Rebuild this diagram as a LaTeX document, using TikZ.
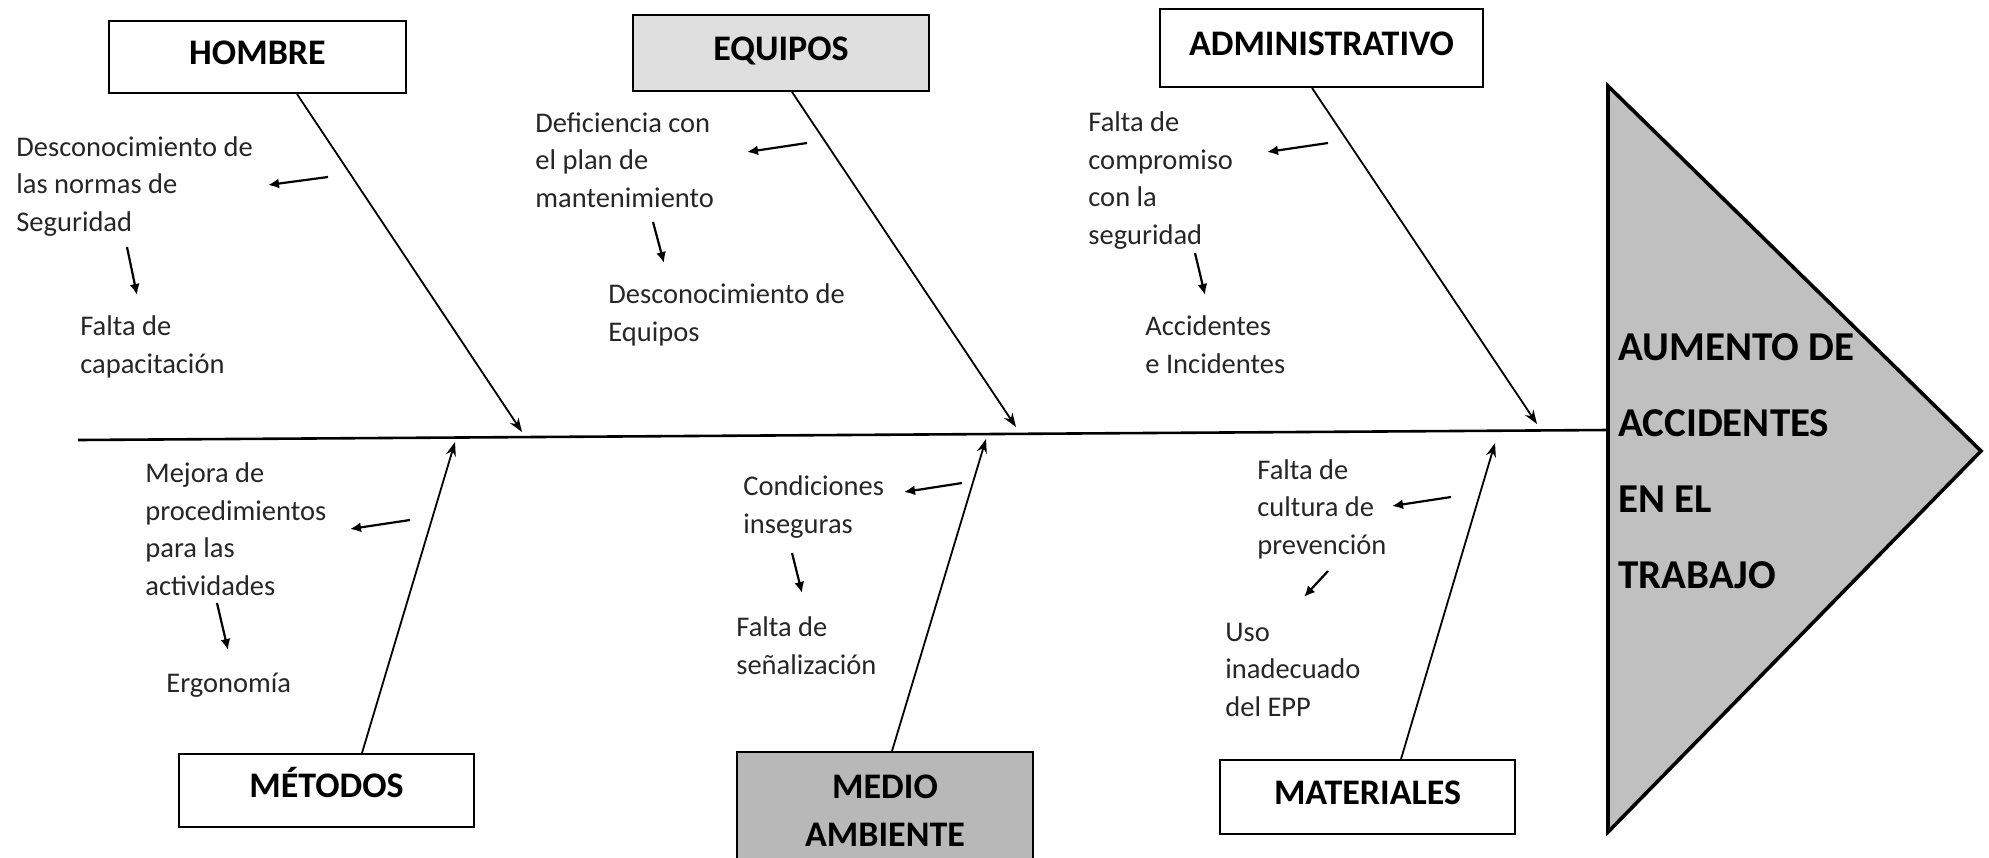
\documentclass[tikz,border=0pt]{standalone}
\usepackage{fontspec}
\setmainfont{Carlito}
\usetikzlibrary{arrows.meta,calc}
\definecolor{lightfill}{HTML}{DFDFDF}
\definecolor{midfill}{HTML}{B8B8B8}
\definecolor{trifill}{HTML}{C0C0C0}
\definecolor{txt}{HTML}{262626}
\tikzset{
  headbox/.style={draw=black, line width=1pt, inner sep=0pt,
    font=\fontsize{18}{22}\selectfont\bfseries, text height=12pt, text depth=4.9pt},
  medbox/.style={draw=black, line width=1pt, inner sep=0pt, align=center,
    font=\fontsize{18}{24}\selectfont\bfseries},
  cause/.style={anchor=base west, inner sep=0pt, align=left,
    font=\fontsize{14.25}{18.75}\selectfont, text=txt},
  bone/.style={line width=0.9pt, -{Stealth[length=7pt,width=5pt]}},
  subarrow/.style={line width=1.1pt, -{Latex[length=5.5pt,width=5pt]}},
  spine/.style={line width=1.3pt},
}
\begin{document}
\begin{tikzpicture}[x=0.5pt,y=-0.5pt]
\useasboundingbox (0,0) rectangle (1989,857);

% effect triangle
\draw[line width=1.8pt, fill=trifill] (1608,86) -- (1981,451) -- (1608,832) -- cycle;
\node[anchor=base west, inner sep=0pt, align=left,
  font=\fontsize{20.5}{37.85}\selectfont\bfseries] (effect) at (1618,588)
  {AUMENTO DE\\ACCIDENTES\\EN EL\\TRABAJO};

% spine
\coordinate (spineL) at (78,440);
\coordinate (spineR) at (1608,430);
\draw[spine] (spineL) -- (spineR);

% category boxes
\node[headbox, minimum width=148.5pt, minimum height=36pt] (hombre) at (257.5,57) {HOMBRE};
\node[headbox, fill=lightfill, minimum width=148pt, minimum height=38pt] (equipos) at (781,53) {EQUIPOS};
\node[headbox, minimum width=161.5pt, minimum height=39pt] (admin) at (1321.5,48) {ADMINISTRATIVO};
\node[headbox, minimum width=147.5pt, minimum height=36.5pt] (metodos) at (326.5,790.5) {MÉTODOS};
\node[medbox, fill=midfill, minimum width=148pt, minimum height=59pt] (medio) at (885,811) {MEDIO\\AMBIENTE};
\node[headbox, minimum width=147.5pt, minimum height=37pt] (materiales) at (1367.5,797) {MATERIALES};

% bone tips
\coordinate (tipH) at (522,432);
\coordinate (tipE) at (1016,427);
\coordinate (tipA) at (1537,424);
\coordinate (tipM) at (455,442);
\coordinate (tipMA) at (986,439);
\coordinate (tipMt) at (1495,443);

\draw[bone] ($(hombre.south)+(39.5,0)$) -- (tipH);
\draw[bone] ($(equipos.south)+(11,0)$) -- (tipE);
\draw[bone] ($(admin.south)+(-9.5,0)$) -- (tipA);
\draw[bone] ($(metodos.north)+(35.5,0)$) -- (tipM);
\draw[bone] ($(medio.north)+(7,0)$) -- (tipMA);
\draw[bone] ($(materiales.north)+(33.5,0)$) -- (tipMt);

% causes (anchored at the baseline of their last line)
\node[cause] (c1) at (16,231) {Desconocimiento de\\las normas de\\Seguridad};
\node[cause] (c2) at (80,373) {Falta de\\capacitación};
\node[cause] (c3) at (535,207) {Deficiencia con\\el plan de\\mantenimiento};
\node[cause] (c4) at (608,341) {Desconocimiento de\\Equipos};
\node[cause] (c5) at (1088,244) {Falta de\\compromiso\\con la\\seguridad};
\node[cause] (c6) at (1145,373) {Accidentes\\e Incidentes};
\node[cause] (c7) at (145,595) {Mejora de\\procedimientos\\para las\\actividades};
\node[cause] (c8) at (166,692) {Ergonomía};
\node[cause] (c9) at (743,533) {Condiciones\\inseguras};
\node[cause] (c10) at (736,674) {Falta de\\señalización};
\node[cause] (c11) at (1257,554) {Falta de\\cultura de\\prevención};
\node[cause] (c12) at (1225,716) {Uso\\inadecuado\\del EPP};

% small arrows
\coordinate (a1s) at (328,177); \coordinate (a1e) at (268,185);
\coordinate (a2s) at (127,247); \coordinate (a2e) at (137,295);
\coordinate (a3s) at (807,143); \coordinate (a3e) at (747,152);
\coordinate (a4s) at (653,222); \coordinate (a4e) at (664,263);
\coordinate (a5s) at (1328,143); \coordinate (a5e) at (1267,152);
\coordinate (a6s) at (1195,253); \coordinate (a6e) at (1205,295);
\coordinate (a7s) at (410,520); \coordinate (a7e) at (350,529);
\coordinate (a8s) at (217,603); \coordinate (a8e) at (228,650);
\coordinate (a9s) at (962,483); \coordinate (a9e) at (904,492);
\coordinate (a10s) at (792,553); \coordinate (a10e) at (802,593);
\coordinate (a11s) at (1451,497); \coordinate (a11e) at (1392,506);
\coordinate (a12s) at (1328,571); \coordinate (a12e) at (1304,597);
\foreach \i in {1,...,12} {\draw[subarrow] (a\i s) -- (a\i e);}
\end{tikzpicture}
\end{document}
